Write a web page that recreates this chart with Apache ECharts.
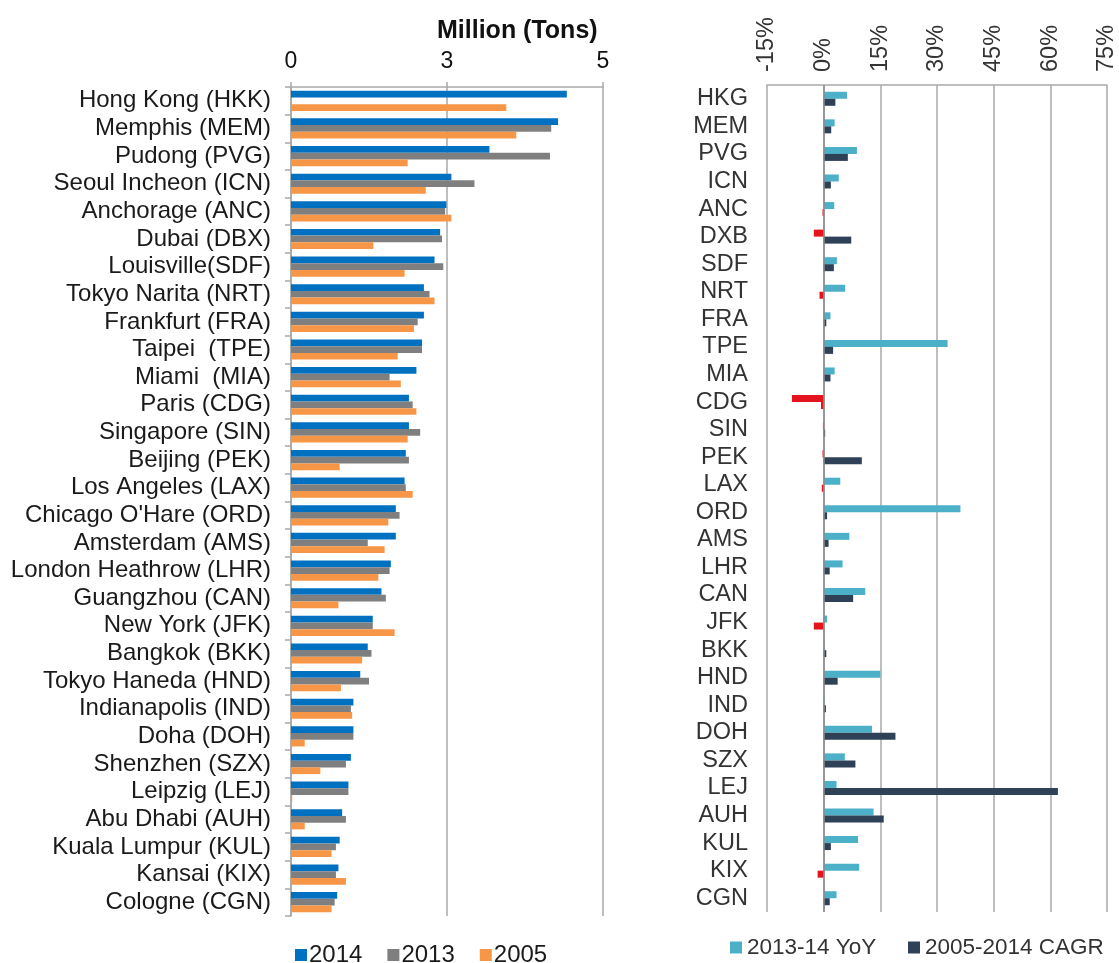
<!DOCTYPE html>
<html>
<head>
<meta charset="utf-8">
<script src="https://cdn.jsdelivr.net/npm/echarts@6/dist/echarts.min.js"></script>
<style>
  html, body { margin: 0; padding: 0; background: #fff; }
  #wrap { position: relative; width: 1119px; height: 963px; }
  #tons { position: absolute; left: 0; top: 0; width: 660px; height: 963px; }
  #growth { position: absolute; left: 660px; top: 0; width: 459px; height: 963px; filter: blur(0.6px); }
</style>
</head>
<body>
<div id="wrap">
  <div id="tons"></div>
  <div id="growth"></div>
</div>
<script>
// Airports, busiest cargo hubs first
const airportNames = [
  "Hong Kong (HKK)", "Memphis (MEM)", "Pudong (PVG)", "Seoul Incheon (ICN)",
  "Anchorage (ANC)", "Dubai (DBX)", "Louisville(SDF)", "Tokyo Narita (NRT)",
  "Frankfurt (FRA)", "Taipei  (TPE)", "Miami  (MIA)", "Paris (CDG)",
  "Singapore (SIN)", "Beijing (PEK)", "Los Angeles (LAX)", "Chicago O'Hare (ORD)",
  "Amsterdam (AMS)", "London Heathrow (LHR)", "Guangzhou (CAN)", "New York (JFK)",
  "Bangkok (BKK)", "Tokyo Haneda (HND)", "Indianapolis (IND)", "Doha (DOH)",
  "Shenzhen (SZX)", "Leipzig (LEJ)", "Abu Dhabi (AUH)", "Kuala Lumpur (KUL)",
  "Kansai (KIX)", "Cologne (CGN)"
];
const airportCodes = [
  "HKG", "MEM", "PVG", "ICN", "ANC", "DXB", "SDF", "NRT", "FRA", "TPE",
  "MIA", "CDG", "SIN", "PEK", "LAX", "ORD", "AMS", "LHR", "CAN", "JFK",
  "BKK", "HND", "IND", "DOH", "SZX", "LEJ", "AUH", "KUL", "KIX", "CGN"
];

// Cargo volume, million tons
const tons2014 = [
  4.42, 4.28, 3.18, 2.57, 2.49, 2.39, 2.30, 2.13, 2.13, 2.10,
  2.01, 1.89, 1.89, 1.84, 1.82, 1.68, 1.68, 1.60, 1.45, 1.31,
  1.23, 1.11, 1.00, 1.00, 0.96, 0.92, 0.82, 0.78, 0.76, 0.74
];
const tons2013 = [
  0, 4.17, 4.15, 2.94, 2.47, 2.42, 2.44, 2.22, 2.03, 2.10,
  1.58, 1.95, 2.07, 1.89, 1.84, 1.74, 1.23, 1.58, 1.52, 1.31,
  1.29, 1.25, 0.96, 1.00, 0.88, 0.92, 0.88, 0.72, 0.72, 0.70
];
const tons2005 = [
  3.45, 3.61, 1.87, 2.16, 2.57, 1.32, 1.82, 2.30, 1.97, 1.71,
  1.76, 2.01, 1.87, 0.78, 1.95, 1.56, 1.50, 1.40, 0.76, 1.66,
  1.14, 0.80, 0.98, 0.22, 0.47, 0.02, 0.22, 0.65, 0.88, 0.65
];

// Growth rates, percent
const yoy1314 = [
  6.2, 2.9, 8.8, 4.0, 2.8, -2.6, 3.5, 5.7, 1.8, 32.8,
  2.9, -8.4, -0.2, -0.3, 4.4, 36.2, 6.8, 5.0, 11.0, 0.9,
  0.2, 15.0, 0.2, 12.8, 5.6, 3.4, 13.2, 9.1, 9.4, 3.4
];
const cagr0514 = [
  3.1, 2.0, 6.4, 1.9, -0.3, 7.3, 2.7, -1.1, 0.7, 2.5,
  1.8, -0.7, 0.4, 10.1, -0.5, 0.9, 1.3, 1.6, 7.8, -2.6,
  0.7, 3.7, 0.6, 19.0, 8.4, 62.0, 15.9, 1.9, -1.6, 1.6
];

// Axis ticks
const tonsTicks = [0, 2.5, 5];
const pctTicks = [-15, 0, 15, 30, 45, 60, 75];

const FONT = '"Liberation Sans", Arial, sans-serif';
const GRID_GREY = '#a9a9a9';
const NEG_RED = '#e3141c';

// ---- Volume chart ----
const tonsChart = echarts.init(document.getElementById('tons'), null, { renderer: 'canvas' });
const tonsBar = (name, data, color) => ({
  name, type: 'bar', data,
  barGap: '0%', barCategoryGap: '27%',
  itemStyle: { color },
  animation: false
});
tonsChart.setOption({
  animation: false,
  textStyle: { fontFamily: FONT },
  graphic: [{
    type: 'text', left: 437, top: 19,
    style: { text: 'Million (Tons)', font: 'bold 25px ' + FONT, fill: '#111' }
  }],
  legend: {
    left: 290, top: 938,
    itemWidth: 12, itemHeight: 12, itemGap: 25,
    icon: 'rect',
    textStyle: { fontSize: 24, color: '#1a1a1a', fontFamily: FONT, padding: [0, 0, 0, -3] },
    data: ['2014', '2013', '2005']
  },
  grid: { left: 291, right: 57, top: 87, bottom: 47, containLabel: false },
  xAxis: {
    type: 'value', position: 'top',
    min: tonsTicks[0], max: tonsTicks[tonsTicks.length - 1], interval: tonsTicks[1] - tonsTicks[0],
    axisLine: { show: true, lineStyle: { color: GRID_GREY, width: 1.5 } },
    axisTick: { show: true, length: 5, lineStyle: { color: GRID_GREY, width: 1.5 } },
    axisLabel: {
      fontSize: 23, color: '#111', margin: 14, fontFamily: FONT,
      formatter: v => String(Math.round(v))
    },
    splitLine: { show: true, lineStyle: { color: GRID_GREY, width: 1.5 } }
  },
  yAxis: {
    type: 'category', inverse: true, data: airportNames,
    axisLine: { show: true, lineStyle: { color: GRID_GREY, width: 1.5 } },
    axisTick: { show: true, length: 6, interval: 0, lineStyle: { color: GRID_GREY, width: 1.5 } },
    axisLabel: { interval: 0, fontSize: 24, color: '#1a1a1a', margin: 20, fontFamily: FONT }
  },
  series: [
    tonsBar('2014', tons2014, '#0070c0'),
    tonsBar('2013', tons2013, '#7f7f7f'),
    tonsBar('2005', tons2005, '#f79646')
  ]
});

// ---- Growth chart ----
const growthChart = echarts.init(document.getElementById('growth'), null, { renderer: 'canvas' });
const withNegatives = arr => arr.map(v => v < 0 ? { value: v, itemStyle: { color: NEG_RED } } : v);
const growthLegend = (name, left) => ({
  left, top: 936, padding: 0,
  itemWidth: 12, itemHeight: 12,
  icon: 'rect',
  textStyle: { fontSize: 22.5, color: '#333', fontFamily: FONT, padding: 0 },
  data: [name]
});
growthChart.setOption({
  animation: false,
  textStyle: { fontFamily: FONT },
  legend: [
    growthLegend('2013-14 YoY', 70),
    growthLegend('2005-2014 CAGR', 248)
  ],
  grid: { left: 107, right: 12, top: 85, bottom: 51, containLabel: false },
  xAxis: {
    type: 'value', position: 'top',
    min: pctTicks[0], max: pctTicks[pctTicks.length - 1], interval: pctTicks[1] - pctTicks[0],
    axisLine: { show: true, lineStyle: { color: GRID_GREY, width: 1.5 } },
    axisTick: { show: false },
    axisLabel: {
      rotate: -90, fontSize: 23.5, color: '#333', margin: 13, fontFamily: FONT,
      formatter: v => v + '%'
    },
    splitLine: { show: true, lineStyle: { color: GRID_GREY, width: 1.5 } }
  },
  yAxis: {
    type: 'category', inverse: true, data: airportCodes,
    axisLine: { show: false, onZero: false },
    axisTick: { show: false },
    axisLabel: { interval: 0, fontSize: 23.5, color: '#333', margin: 19, fontFamily: FONT }
  },
  series: [
    {
      name: '2013-14 YoY', type: 'bar', data: withNegatives(yoy1314),
      barWidth: 7, barGap: '0%',
      itemStyle: { color: '#4bb0c8' },
      markLine: {
        silent: true, symbol: 'none', label: { show: false },
        lineStyle: { color: '#8c8c8c', width: 1.5, type: 'solid' },
        data: [{ xAxis: 0 }]
      }
    },
    {
      name: '2005-2014 CAGR', type: 'bar', data: withNegatives(cagr0514),
      barWidth: 7, barGap: '0%',
      itemStyle: { color: '#2e4156' }
    }
  ]
});
</script>
</body>
</html>
